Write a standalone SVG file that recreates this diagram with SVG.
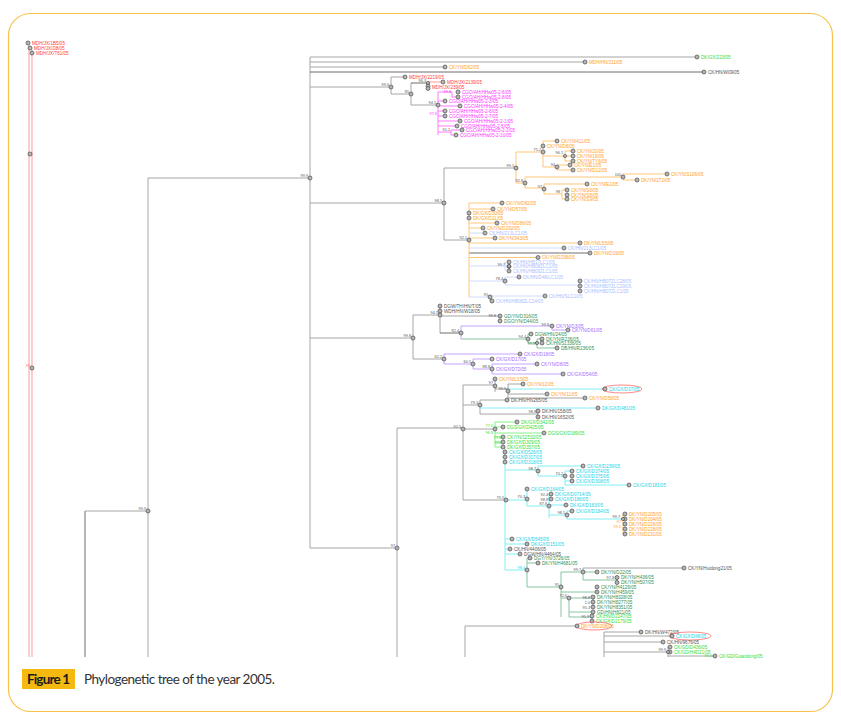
<svg xmlns="http://www.w3.org/2000/svg" width="841" height="717" viewBox="0 0 841 717">
<style>
.t{font-family:"Liberation Sans",Arial,sans-serif;font-size:4.6px}
.bs{font-family:"Liberation Sans",Arial,sans-serif;font-size:3.8px;fill:#555;text-anchor:end}
.n{fill:#b5b5b5;stroke:#4a4a4a;stroke-width:.7}
.tr{fill:#ff3b3b}.tm{fill:#ff33ff}.to{fill:#ffa126}.tl{fill:#a9c0ff}.tp{fill:#a46cff}.td{fill:#2f8f57}.tg{fill:#33dd33}.tc{fill:#22d3e6}.tk{fill:#555}
path{fill:none;stroke-width:1}
.lk{stroke:#a6a6a6}.lx{stroke:#6e6e6e}.lr{stroke:#ff9999}.lm{stroke:#ff7aff}.lo{stroke:#ffc77a}.ll{stroke:#d0dcff}.lp{stroke:#c6a2ff}.ld{stroke:#86c5a0}.lg{stroke:#86ee86}.lc{stroke:#80eef5}
.el{fill:none;stroke:#ff6a6a;stroke-width:.8}
</style>
<rect x="8.5" y="13.5" width="824" height="698" rx="22" fill="none" stroke="#f8c24a" stroke-width="1.2"/>
<g id="connectors">
<path class="lr" d="M29,45V657M32,50V657"/>
<path class="lx" d="M85,657V511"/>
<path class="lk" d="M85,511H148M148,657V178H310M310,57V548H397M310,57H697M310,62H585M310,67H445M310,87H391M391,77V94M391,77H405M391,94H411M411,83V105M411,105H438M310,203H444M444,168V240M444,168H516M444,240H469M310,338H413M413,315V359M413,315H440M440,306V333M440,316H500M413,359H444M397,428V657M397,428H463M463,385V500M463,385H495M463,405H480M463,429H495M463,500H506M465,626V657M465,626H577M604,632V657M604,632H641M604,642H663M604,652H668"/>
<path class="lx" d="M310,72H704M411,83H428M440,333H461M469,253H590"/>
<path class="lr" d="M428,82V88M428,82H443"/>
<path class="lm" d="M438,92V135M438,92H452M452,92V97M452,97H458M438,101H445M438,106H460M438,111H445M438,116H445M438,121H460M438,126H457M438,132H451M451,130V135M451,130H462M451,135H456"/>
<path class="lo" d="M516,152V183H525M516,152H543M543,141V167M543,141H557M543,156H565M565,151V161M565,151H573M565,156H573M565,161H573M543,167H557M557,165V170M557,165H570M557,170H573M525,177V188M525,177H623M623,174V180M623,174H667M623,180H637M525,188H544M544,184V194M544,184H587M544,194H562M562,190V199M562,190H567M562,199H567"/>
<path class="lo" d="M469,203V297M469,203H502M469,209H493M469,223H497M469,228H483M469,238H495M469,243H580M469,257.5H538"/>
<path class="ll" d="M469,233H485M469,248H564M469,266H509M505,262V271M469,281H505M505,277V285M505,277H519M505,285H580M580,281V291M469,297H490M490,296V301M490,296H545M490,301H492"/>
<path class="ld" d="M500,316V321M461,339H528M528,334V343M528,334H531M528,343H537M537,339V348M537,339H542M537,348H557"/>
<path class="lp" d="M461,326V339M461,326H552M552,326V330H568M444,354V364M444,354H520M444,364H473M473,359V369M473,359H492M473,369H492M492,364V374M492,364H537M492,374H563"/>
<path class="lk" d="M495,379V392M495,389H508M508,384V398M508,384H523M508,394H547M508,398H585M480,400V414M480,400H507M480,414H538M538,411V417"/>
<path class="lc" d="M508,389H605M480,408H598"/>
<path class="lg" d="M495,422V447M495,422H517M495,427H503M495,433H544M495,437H503M495,442H503M495,447H503"/>
<path class="lc" d="M505,447V570M505,470H538M538,466V476M538,466H583M538,476H565M565,471V485M565,471H572M565,481H572M565,485H629M506,500H527M527,489V506M527,506H549M549,494V518M549,494H551M549,499H551M549,505H566M549,515H567M567,511V519M567,511H572M567,519H623M505,539H512M505,544H527M505,549H510M505,554H520M505,570H527"/>
<path class="lo" d="M623,514V534M623,514H625M623,524H625M623,529H625M623,534H625"/>
<path class="ld" d="M527,558V587M527,558H530M527,563H538M527,587H561M561,572V617M561,572H583M583,568V580M583,572H597M583,580H617M617,577V583M561,592H597M561,598H569M569,598V617M569,598H593M593,597V607M569,612H593M569,617H592M592,616V621"/>
<path class="lk" d="M583,568H684M604,636H672M668,647V657M668,647H670M668,656H715"/>
</g>
<g id="n_red1"><circle class="n" cx="28" cy="43" r="2"/><text class="t tr" x="32" y="44.7">MDH/JX/1B5/05</text></g>
<g id="n_red2"><circle class="n" cx="30" cy="48" r="2"/><text class="t tr" x="34" y="49.7">MDH/JX/D8/05</text></g>
<g id="n_red3"><circle class="n" cx="32" cy="53" r="2"/><text class="t tr" x="36" y="54.7">MDH/JX/T61/05</text></g>
<g id="n_red4"><circle class="n" cx="30" cy="154" r="2"/></g>
<g id="b_red"><circle class="n" cx="32" cy="368" r="2"/><text class="bs" x="30" y="367" style="fill:#ff6a6a">99</text></g>
<g id="n4"><circle class="n" cx="697" cy="57" r="2"/><text class="t tg" x="701" y="58.7">DK/GX/223/05</text></g>
<g id="n5"><circle class="n" cx="585" cy="62" r="2"/><text class="t to" x="589" y="63.7">MDH/HN/211/05</text></g>
<g id="n6"><circle class="n" cx="445" cy="67" r="2"/><text class="t to" x="449" y="68.7">CK/YN/D62/05</text></g>
<g id="n7"><circle class="n" cx="704" cy="72" r="2"/><text class="t tk" x="708" y="73.7">CK/HN/W09/05</text></g>
<g id="n8"><circle class="n" cx="405" cy="77" r="2"/><text class="t tr" x="409" y="78.7">MDH/JX/2219/05</text></g>
<g id="n9"><circle class="n" cx="443" cy="82" r="2"/><text class="t tr" x="447" y="83.7">MDH/JX/2139/05</text></g>
<g id="n10"><circle class="n" cx="428" cy="86" r="2"/><circle class="n" cx="428" cy="88.5" r="2"/><text class="t tr" x="432" y="88.7">MDH/JX/239/05</text></g>
<g id="n11"><circle class="n" cx="458" cy="92" r="2"/><text class="t tm" x="462" y="93.7">CGO/AH/HHw05-2-6/05</text></g>
<g id="n12"><circle class="n" cx="458" cy="97" r="2"/><text class="t tm" x="462" y="98.7">CGO/AH/HHw05-2-8/05</text></g>
<g id="n13"><circle class="n" cx="445" cy="101" r="2"/><text class="t tm" x="449" y="102.7">CGO/AH/HHw05-2-3/05</text></g>
<g id="n14"><circle class="n" cx="460" cy="106" r="2"/><text class="t tm" x="464" y="107.7">CGO/AH/HHw05-2-4/05</text></g>
<g id="n15"><circle class="n" cx="445" cy="111" r="2"/><text class="t tm" x="449" y="112.7">CGO/AH/HHw05-2-6/05</text></g>
<g id="n16"><circle class="n" cx="445" cy="116" r="2"/><text class="t tm" x="449" y="117.7">CGO/AH/HHw05-2-7/05</text></g>
<g id="n17"><circle class="n" cx="460" cy="121" r="2"/><text class="t tm" x="464" y="122.7">CGO/AH/HHw05-2-1/05</text></g>
<g id="n18"><circle class="n" cx="457" cy="126" r="2"/><text class="t tm" x="461" y="127.7">CGO/AH/HHw05-2-5/05</text></g>
<g id="n19"><circle class="n" cx="462" cy="130" r="2"/><text class="t tm" x="466" y="131.7">CGO/AH/HHw05-2-2/05</text></g>
<g id="n20"><circle class="n" cx="456" cy="135" r="2"/><text class="t tm" x="460" y="136.7">CGO/AH/HHw05-2-10/05</text></g>
<g id="n21"><circle class="n" cx="557" cy="141" r="2"/><text class="t to" x="561" y="142.7">CK/YN/411/05</text></g>
<g id="n22"><circle class="n" cx="543" cy="146" r="2"/><text class="t to" x="547" y="147.7">CK/YN/D8/05</text></g>
<g id="n23"><circle class="n" cx="573" cy="151" r="2"/><text class="t to" x="577" y="152.7">CK/YN/20/05</text></g>
<g id="n24"><circle class="n" cx="573" cy="156" r="2"/><text class="t to" x="577" y="157.7">CK/YN/19/05</text></g>
<g id="n25"><circle class="n" cx="573" cy="161" r="2"/><text class="t to" x="577" y="162.7">CK/YN/TY6/05</text></g>
<g id="n26"><circle class="n" cx="570" cy="165" r="2"/><text class="t to" x="574" y="166.7">CK/YN/E1/05</text></g>
<g id="n27"><circle class="n" cx="573" cy="170" r="2"/><text class="t to" x="577" y="171.7">CK/YN/D12/05</text></g>
<g id="n28"><circle class="n" cx="667" cy="174" r="2"/><text class="t to" x="671" y="175.7">CK/YN/S106/05</text></g>
<g id="n29"><circle class="n" cx="637" cy="180" r="2"/><text class="t to" x="641" y="181.7">DK/YN/272/05</text></g>
<g id="n30"><circle class="n" cx="587" cy="184" r="2"/><text class="t to" x="591" y="185.7">CK/YN/E1/05</text></g>
<g id="n31"><circle class="n" cx="567" cy="190" r="2"/><text class="t to" x="571" y="191.7">CK/YN/S6/05</text></g>
<g id="n32"><circle class="n" cx="567" cy="195" r="2"/><text class="t to" x="571" y="196.7">CK/YN/S8/05</text></g>
<g id="n33"><circle class="n" cx="567" cy="199" r="2"/><text class="t to" x="571" y="200.7">CK/YN/S9/05</text></g>
<g id="n34"><circle class="n" cx="502" cy="203" r="2"/><text class="t to" x="506" y="204.7">CK/YN/D82/05</text></g>
<g id="n35"><circle class="n" cx="493" cy="209" r="2"/><text class="t to" x="497" y="210.7">CK/YN/D57/05</text></g>
<g id="n36"><circle class="n" cx="469" cy="213" r="2"/><text class="t to" x="473" y="214.7">DK/GX/D30/05</text></g>
<g id="n37"><circle class="n" cx="469" cy="218" r="2"/><text class="t to" x="473" y="219.7">DK/GX/D11/05</text></g>
<g id="n38"><circle class="n" cx="497" cy="223" r="2"/><text class="t to" x="501" y="224.7">CK/YN/D86/05</text></g>
<g id="n39"><circle class="n" cx="483" cy="228" r="2"/><text class="t to" x="487" y="229.7">CK/YN/D292/05</text></g>
<g id="n40"><circle class="n" cx="485" cy="233" r="2"/><text class="t tl" x="489" y="234.7">CK/HN/213LC1/05</text></g>
<g id="n41"><circle class="n" cx="495" cy="238" r="2"/><text class="t to" x="499" y="239.7">DK/YN/343/05</text></g>
<g id="n42"><circle class="n" cx="580" cy="243" r="2"/><text class="t to" x="584" y="244.7">DK/YN/L55/05</text></g>
<g id="n43"><circle class="n" cx="564" cy="248" r="2"/><text class="t tl" x="568" y="249.7">CK/HN/213LC1/05</text></g>
<g id="n44"><circle class="n" cx="590" cy="253" r="2"/><text class="t to" x="594" y="254.7">DK/YN/D19/05</text></g>
<g id="n45"><circle class="n" cx="538" cy="257.5" r="2"/><text class="t to" x="542" y="259">CK/YN/D298/05</text></g>
<g id="n46"><circle class="n" cx="509" cy="262" r="2"/><text class="t tl" x="513" y="263.7">CK/HN/HB17LC1/05</text></g>
<g id="n47"><circle class="n" cx="509" cy="266.5" r="2"/><text class="t tl" x="513" y="268.2">CK/HN/HB08ZLC1/05</text></g>
<g id="n48"><circle class="n" cx="509" cy="271" r="2"/><text class="t tl" x="513" y="272.7">CK/HN/HB09ZLC1/05</text></g>
<g id="n49"><circle class="n" cx="519" cy="277" r="2"/><text class="t tl" x="523" y="278.7">DK/HN/D46/LC1/05</text></g>
<g id="n50"><circle class="n" cx="580" cy="281" r="2"/><text class="t tl" x="584" y="282.7">CK/HN/HB07ZLC28/05</text></g>
<g id="n51"><circle class="n" cx="580" cy="286" r="2"/><text class="t tl" x="584" y="287.7">CK/HN/HB07ZLC29/05</text></g>
<g id="n52"><circle class="n" cx="580" cy="291" r="2"/><text class="t tl" x="584" y="292.7">CK/HN/HB07ZLC1/05</text></g>
<g id="n53"><circle class="n" cx="545" cy="296" r="2"/><text class="t tl" x="549" y="297.7">CK/HN/SLC1/05</text></g>
<g id="n54"><circle class="n" cx="492" cy="301" r="2"/><text class="t tl" x="496" y="302.7">CK/HN/HB08ZLC14/05</text></g>
<g id="n55"><circle class="n" cx="440" cy="306" r="2"/><text class="t tk" x="444" y="307.7">DGW/TH/HN/T/05</text></g>
<g id="n56"><circle class="n" cx="440" cy="311" r="2"/><text class="t tk" x="444" y="312.7">WDH/HN/W18/05</text></g>
<g id="n57"><circle class="n" cx="500" cy="316" r="2"/><text class="t td" x="504" y="317.7">GD/YN/D316/05</text></g>
<g id="n58"><circle class="n" cx="500" cy="321" r="2"/><text class="t td" x="504" y="322.7">DGO/YN/D44/05</text></g>
<g id="n59"><circle class="n" cx="552" cy="326" r="2"/><text class="t tp" x="556" y="327.7">CK/YN/D3/05</text></g>
<g id="n60"><circle class="n" cx="568" cy="330" r="2"/><text class="t tp" x="572" y="331.7">CK/YN/D61/05</text></g>
<g id="n61"><circle class="n" cx="531" cy="334" r="2"/><text class="t td" x="535" y="335.7">DGW/HN/24/05</text></g>
<g id="n62"><circle class="n" cx="542" cy="339" r="2"/><text class="t td" x="546" y="340.7">DK/YN/R236/05</text></g>
<g id="n63"><circle class="n" cx="542" cy="343" r="2"/><text class="t td" x="546" y="344.7">CK/HN/51336/05</text></g>
<g id="n64"><circle class="n" cx="557" cy="348" r="2"/><text class="t td" x="561" y="349.7">DB/HN/R236/05</text></g>
<g id="n65"><circle class="n" cx="520" cy="354" r="2"/><text class="t tp" x="524" y="355.7">CK/GX/D18/05</text></g>
<g id="n66"><circle class="n" cx="492" cy="359" r="2"/><text class="t tp" x="496" y="360.7">CK/GX/D17/05</text></g>
<g id="n67"><circle class="n" cx="537" cy="364" r="2"/><text class="t tp" x="541" y="365.7">CK/YN/D8/05</text></g>
<g id="n68"><text class="t tp" x="496" y="370.7">CK/GX/D72/05</text></g>
<g id="n69"><circle class="n" cx="563" cy="374" r="2"/><text class="t tp" x="567" y="375.7">CK/GX/D54/05</text></g>
<g id="n70"><circle class="n" cx="495" cy="379" r="2"/><text class="t to" x="499" y="380.7">CK/YN/L33/05</text></g>
<g id="n71"><circle class="n" cx="523" cy="384" r="2"/><text class="t to" x="527" y="385.7">CK/YN/12/05</text></g>
<g id="n72"><ellipse class="el" cx="622" cy="389" rx="20" ry="4"/><circle class="n" cx="605" cy="389" r="2"/><text class="t tc" x="609" y="390.7">CK/GX/D37/05</text></g>
<g id="n73"><circle class="n" cx="547" cy="394" r="2"/><text class="t to" x="551" y="395.7">CK/YN/11/05</text></g>
<g id="n74"><circle class="n" cx="585" cy="398" r="2"/><text class="t to" x="589" y="399.7">CK/YN/D58/05</text></g>
<g id="n75"><circle class="n" cx="507" cy="400" r="2"/><text class="t tk" x="511" y="401.7">DK/HN/HN265/05</text></g>
<g id="n76"><circle class="n" cx="598" cy="408" r="2"/><text class="t tc" x="602" y="409.7">DK/GX/D481/05</text></g>
<g id="n77"><circle class="n" cx="538" cy="411" r="2"/><text class="t tk" x="542" y="412.7">DK/HN/158/05</text></g>
<g id="n78"><circle class="n" cx="538" cy="417" r="2"/><text class="t tk" x="542" y="418.7">DK/HN/1652/05</text></g>
<g id="n79"><circle class="n" cx="517" cy="422" r="2"/><text class="t tg" x="521" y="423.7">DK/GX/D342/05</text></g>
<g id="n80"><circle class="n" cx="503" cy="427" r="2"/><text class="t tg" x="507" y="428.7">DGS/GX/D425/05</text></g>
<g id="n81"><circle class="n" cx="544" cy="433" r="2"/><text class="t tg" x="548" y="434.7">DGS/GX/D189/05</text></g>
<g id="n82"><circle class="n" cx="503" cy="437" r="2"/><text class="t tg" x="507" y="438.7">CK/YN/12532/05</text></g>
<g id="n83"><circle class="n" cx="503" cy="442" r="2"/><text class="t tg" x="507" y="443.7">DK/GX/D309/05</text></g>
<g id="n84"><circle class="n" cx="503" cy="447" r="2"/><text class="t tg" x="507" y="448.7">DK/GX/D357/05</text></g>
<g id="n85"><circle class="n" cx="505" cy="452" r="2"/><text class="t tc" x="509" y="453.7">CK/GX/D526/05</text></g>
<g id="n86"><circle class="n" cx="505" cy="457" r="2"/><text class="t tc" x="509" y="458.7">CK/GX/D317/05</text></g>
<g id="n87"><circle class="n" cx="505" cy="462" r="2"/><text class="t tc" x="509" y="463.7">CK/GX/D318/05</text></g>
<g id="n88"><circle class="n" cx="583" cy="466" r="2"/><text class="t tc" x="587" y="467.7">CK/GX/D239/05</text></g>
<g id="n89"><circle class="n" cx="572" cy="471" r="2"/><text class="t tc" x="576" y="472.7">CK/GX/D374/05</text></g>
<g id="n90"><circle class="n" cx="572" cy="476" r="2"/><text class="t tc" x="576" y="477.7">CK/GX/D375/05</text></g>
<g id="n91"><circle class="n" cx="572" cy="481" r="2"/><text class="t tc" x="576" y="482.7">CK/GX/D308/05</text></g>
<g id="n92"><circle class="n" cx="629" cy="485" r="2"/><text class="t tc" x="633" y="486.7">CK/GX/D181/05</text></g>
<g id="n93"><circle class="n" cx="527" cy="489" r="2"/><text class="t tc" x="531" y="490.7">CK/GX/D164/05</text></g>
<g id="n94"><circle class="n" cx="551" cy="494" r="2"/><text class="t tc" x="555" y="495.7">DK/GX/D0714/05</text></g>
<g id="n95"><circle class="n" cx="551" cy="499" r="2"/><text class="t tc" x="555" y="500.7">CK/GX/D186/05</text></g>
<g id="n96"><circle class="n" cx="566" cy="505" r="2"/><text class="t tc" x="570" y="506.7">DK/GX/D163/05</text></g>
<g id="n97"><circle class="n" cx="572" cy="511" r="2"/><text class="t tc" x="576" y="512.7">CK/GX/D184/05</text></g>
<g id="n98"><circle class="n" cx="625" cy="514" r="2"/><text class="t to" x="629" y="515.7">DK/YN/D205/05</text></g>
<g id="n99"><circle class="n" cx="625" cy="519" r="2"/><text class="t to" x="629" y="520.7">DK/YN/D204/05</text></g>
<g id="n100"><circle class="n" cx="625" cy="524" r="2"/><text class="t to" x="629" y="525.7">DK/YN/D226/05</text></g>
<g id="n101"><circle class="n" cx="625" cy="529" r="2"/><text class="t to" x="629" y="530.7">DK/YN/D228/05</text></g>
<g id="n102"><circle class="n" cx="625" cy="534" r="2"/><text class="t to" x="629" y="535.7">DK/YN/D231/05</text></g>
<g id="n103"><circle class="n" cx="512" cy="539" r="2"/><text class="t tc" x="516" y="540.7">CK/GX/D545/05</text></g>
<g id="n104"><circle class="n" cx="527" cy="544" r="2"/><text class="t tc" x="531" y="545.7">DK/GX/D151/05</text></g>
<g id="n105"><circle class="n" cx="510" cy="549" r="2"/><text class="t tk" x="514" y="550.7">CK/HN/4406/05</text></g>
<g id="n106"><circle class="n" cx="520" cy="554" r="2"/><text class="t tk" x="524" y="555.7">DGW/HN/4464/05</text></g>
<g id="n107"><circle class="n" cx="530" cy="558" r="2"/><text class="t td" x="534" y="559.7">DGY/YN/3726/05</text></g>
<g id="n108"><circle class="n" cx="538" cy="563" r="2"/><text class="t td" x="542" y="564.7">DK/YN/H4681/05</text></g>
<g id="n109"><circle class="n" cx="684" cy="568" r="2"/><text class="t tk" x="688" y="569.7">CK/YN/Huidong21/05</text></g>
<g id="n110"><circle class="n" cx="597" cy="572" r="2"/><text class="t td" x="601" y="573.5">DK/YN/D22/05</text></g>
<g id="n111"><circle class="n" cx="617" cy="577.5" r="2"/><text class="t td" x="621" y="579.2">DK/YN/H436/05</text></g>
<g id="n112"><circle class="n" cx="617" cy="582.5" r="2"/><text class="t td" x="621" y="584.2">DK/YN/H507/05</text></g>
<g id="n113"><circle class="n" cx="597" cy="587" r="2"/><text class="t td" x="601" y="588.7">CK/YN/H4129/05</text></g>
<g id="n114"><circle class="n" cx="597" cy="592" r="2"/><text class="t td" x="601" y="593.7">DK/YN/H459/05</text></g>
<g id="n115"><circle class="n" cx="593" cy="597" r="2"/><text class="t td" x="597" y="598.7">DK/YN/H8328/05</text></g>
<g id="n116"><circle class="n" cx="593" cy="602" r="2"/><text class="t td" x="597" y="603.7">DK/YN/H8277/05</text></g>
<g id="n117"><circle class="n" cx="593" cy="607" r="2"/><text class="t td" x="597" y="608.7">DK/YN/H8351/05</text></g>
<g id="n118"><circle class="n" cx="593" cy="612" r="2"/><text class="t td" x="597" y="613.7">GD/HN/H821/05</text></g>
<g id="n119"><circle class="n" cx="592" cy="616" r="2"/><text class="t tg" x="596" y="617.7">CK/HN/D2147/05</text></g>
<g id="n120"><circle class="n" cx="592" cy="621" r="2"/><text class="t tg" x="596" y="622.7">CK/GX/D2179/05</text></g>
<g id="n121"><ellipse class="el" cx="594" cy="626" rx="18" ry="4"/><circle class="n" cx="577" cy="626" r="2"/><text class="t to" x="581" y="627.7">DK/YN/D208/05</text></g>
<g id="n122"><circle class="n" cx="641" cy="632" r="2"/><text class="t tk" x="645" y="633.7">DK/HN/W472/05</text></g>
<g id="n123"><ellipse class="el" cx="690" cy="636" rx="21" ry="4"/><circle class="n" cx="672" cy="636" r="2"/><text class="t tc" x="676" y="637.7">CK/GX/D48/05</text></g>
<g id="n124"><circle class="n" cx="663" cy="642" r="2"/><text class="t tk" x="667" y="643.7">CK/HN/9676/05</text></g>
<g id="n125"><circle class="n" cx="670" cy="647" r="2"/><text class="t tg" x="674" y="648.7">CK/GD/D436/05</text></g>
<g id="n126"><circle class="n" cx="670" cy="652" r="2"/><text class="t tg" x="674" y="653.7">CK/GD/H4D21/05</text></g>
<g id="n127"><circle class="n" cx="715" cy="656" r="2"/><text class="t tg" x="719" y="657.7">CK/GD/Guandong/05</text></g>
<g id="bootstraps">
<g id="b1"><circle class="n" cx="391" cy="87" r="2"/><text class="bs" x="389" y="86">99.6</text></g>
<g id="b2"><circle class="n" cx="411" cy="94" r="2"/><text class="bs" x="409" y="93">85</text></g>
<g id="b3"><circle class="n" cx="428" cy="83" r="1.6"/><text class="bs" x="426" y="82">96.3</text></g>
<g id="b4"><circle class="n" cx="438" cy="105" r="2"/><text class="bs" x="436" y="104">94.5</text></g>
<g id="b5"><text class="bs" x="451" y="93" style="fill:#ff33ff">99.8</text></g>
<g id="b6"><text class="bs" x="437" y="115" style="fill:#ff33ff">97.6</text></g>
<g id="b7"><text class="bs" x="450" y="131">91.1</text></g>
<g id="b8"><circle class="n" cx="310" cy="178" r="2"/><text class="bs" x="308" y="177">99.9</text></g>
<g id="b9"><circle class="n" cx="444" cy="203" r="2"/><text class="bs" x="442" y="202">98.5</text></g>
<g id="b10"><circle class="n" cx="516" cy="168" r="2"/><text class="bs" x="514" y="167">99.1</text></g>
<g id="b11"><circle class="n" cx="543" cy="152" r="2"/><text class="bs" x="541" y="151">75.2</text></g>
<g id="b12"><circle class="n" cx="565" cy="156" r="1.6"/><text class="bs" x="563" y="154">96.1</text></g>
<g id="b13"><circle class="n" cx="557" cy="167" r="2"/><text class="bs" x="555" y="166">94</text></g>
<g id="b14"><circle class="n" cx="525" cy="183" r="2"/><text class="bs" x="523" y="182">92.8</text></g>
<g id="b15"><circle class="n" cx="623" cy="177" r="2"/><text class="bs" x="621" y="176">100</text></g>
<g id="b16"><circle class="n" cx="544" cy="189" r="2"/><text class="bs" x="542" y="188">97</text></g>
<g id="b17"><text class="bs" x="560" y="193">98</text></g>
<g id="b18"><circle class="n" cx="469" cy="240" r="2"/><text class="bs" x="467" y="239">92.1</text></g>
<g id="b19"><circle class="n" cx="509" cy="266" r="1.6"/><text class="bs" x="505" y="266">99.7</text></g>
<g id="b20"><circle class="n" cx="505" cy="281" r="2"/><text class="bs" x="503" y="280">78.4</text></g>
<g id="b21"><circle class="n" cx="490" cy="297" r="2"/><text class="bs" x="488" y="296">95</text></g>
<g id="b22"><circle class="n" cx="413" cy="338" r="2"/><text class="bs" x="411" y="337">99.8</text></g>
<g id="b23"><circle class="n" cx="440" cy="315" r="2"/><text class="bs" x="438" y="314">94.5</text></g>
<g id="b24"><text class="bs" x="496" y="317">99.8</text></g>
<g id="b25"><circle class="n" cx="461" cy="333" r="2"/><text class="bs" x="459" y="332">82.4</text></g>
<g id="b26"><text class="bs" x="549" y="326">99.8</text></g>
<g id="b27"><circle class="n" cx="528" cy="339" r="2"/><text class="bs" x="526" y="338">94.4</text></g>
<g id="b28"><circle class="n" cx="537" cy="343" r="1.6"/><text class="bs" x="535" y="345" style="fill:#2f8f57">99.8</text></g>
<g id="b29"><circle class="n" cx="444" cy="359" r="2"/><text class="bs" x="442" y="358">62.2</text></g>
<g id="b30"><circle class="n" cx="473" cy="364" r="2"/><text class="bs" x="471" y="363">60.5</text></g>
<g id="b31"><circle class="n" cx="492" cy="369" r="2"/><text class="bs" x="490" y="368">88.8</text></g>
<g id="b32"><circle class="n" cx="148" cy="511" r="2"/><text class="bs" x="146" y="510">99.9</text></g>
<g id="b33"><circle class="n" cx="397" cy="548" r="2"/><text class="bs" x="395" y="547">97</text></g>
<g id="b34"><circle class="n" cx="463" cy="429" r="2"/><text class="bs" x="461" y="428">92.5</text></g>
<g id="b35"><circle class="n" cx="495" cy="386" r="2"/><text class="bs" x="493" y="384">97</text></g>
<g id="b36"><circle class="n" cx="508" cy="391" r="2"/><text class="bs" x="506" y="390">99.9</text></g>
<g id="b37"><circle class="n" cx="480" cy="405" r="2"/><text class="bs" x="478" y="404">79.3</text></g>
<g id="b38"><text class="bs" x="536" y="413">98.8</text></g>
<g id="b39"><circle class="n" cx="495" cy="429" r="2"/><text class="bs" x="493" y="427" style="fill:#33dd33">77.6</text></g>
<g id="b40"><text class="bs" x="493" y="434" style="fill:#33dd33">96.8</text></g>
<g id="b41"><text class="bs" x="501" y="439" style="fill:#33dd33">77.8</text><text class="bs" x="501" y="444" style="fill:#33dd33">100</text></g>
<g id="b42"><circle class="n" cx="538" cy="471" r="2"/><text class="bs" x="536" y="470">98.7</text></g>
<g id="b43"><circle class="n" cx="565" cy="476" r="2"/><text class="bs" x="563" y="475">70.2</text></g>
<g id="b44"><circle class="n" cx="506" cy="500" r="2"/><text class="bs" x="504" y="499">79.5</text></g>
<g id="b45"><circle class="n" cx="527" cy="499" r="2"/><text class="bs" x="525" y="498">70.3</text></g>
<g id="b46"><circle class="n" cx="549" cy="506" r="2"/><text class="bs" x="547" y="505">87.8</text></g>
<g id="b47"><text class="bs" x="548" y="496">92.4</text><text class="bs" x="548" y="501">98.8</text></g>
<g id="b48"><circle class="n" cx="567" cy="515" r="2"/><text class="bs" x="565" y="514">98.5</text></g>
<g id="b49"><circle class="n" cx="623" cy="519" r="1.6"/><text class="bs" x="620" y="518">99.7</text><text class="bs" x="621" y="523" style="fill:#ffa126">97</text><text class="bs" x="621" y="528" style="fill:#ffa126">99.5</text></g>
<g id="b50"><circle class="n" cx="527" cy="570" r="2"/><text class="bs" x="525" y="569" style="fill:#22d3e6">98.4</text></g>
<g id="b51"><circle class="n" cx="561" cy="587" r="2"/><text class="bs" x="559" y="586">95</text></g>
<g id="b52"><circle class="n" cx="583" cy="572" r="2"/><text class="bs" x="581" y="571">99.7</text></g>
<g id="b53"><text class="bs" x="614" y="579">97.8</text></g>
<g id="b54"><circle class="n" cx="569" cy="598" r="2"/><text class="bs" x="567" y="597">72.6</text></g>
<g id="b55"><text class="bs" x="590" y="599">98.8</text><text class="bs" x="590" y="604">1.0</text><text class="bs" x="590" y="609">95.3</text></g>
<g id="b56"><text class="bs" x="589" y="618">95.9</text></g>
<g id="b57"><circle class="n" cx="668" cy="652" r="1.6"/><text class="bs" x="666" y="651">99.9</text></g>
<g id="b58"><text class="bs" x="712" y="657" style="fill:#33dd33">96.6</text></g>
</g>
<g id="caption">
<rect x="22" y="669" width="53" height="20" fill="#f5b90f"/>
<text x="27" y="684" font-family="Lato, 'Open Sans', sans-serif" font-size="13.5" font-weight="bold" fill="#1a1a1a" textLength="43">Figure 1</text>
<text x="84" y="684" font-family="Lato, 'Open Sans', sans-serif" font-size="13.5" fill="#333" textLength="191">Phylogenetic tree of the year 2005.</text>
</g>
</svg>
